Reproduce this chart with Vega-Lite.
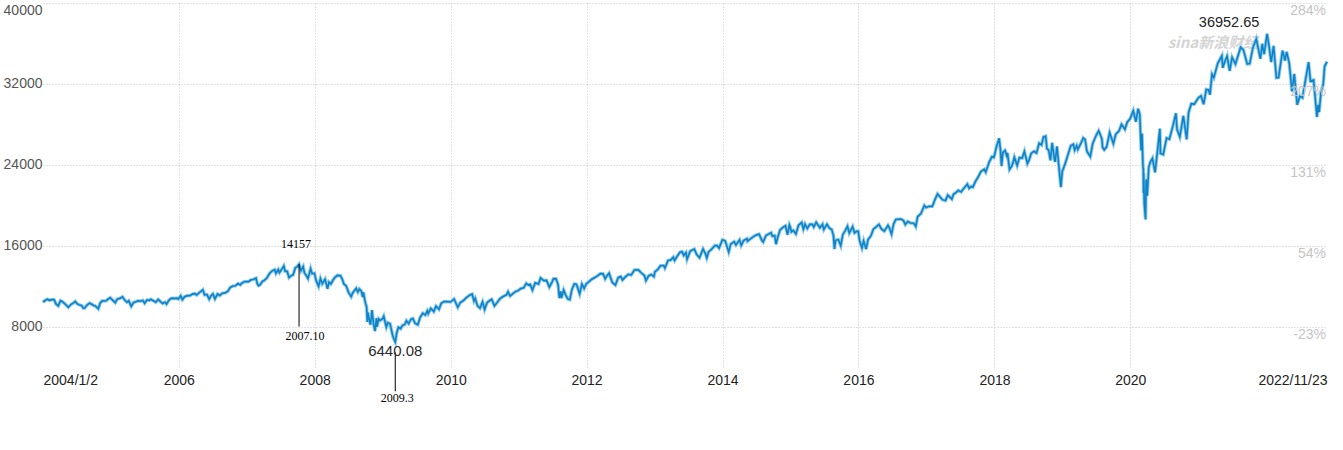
{
  "$schema": "https://vega.github.io/schema/vega-lite/v6.json",
  "width": 1284,
  "height": 364,
  "autosize": "none",
  "padding": {"left": 43, "top": 3, "right": 16, "bottom": 83},
  "background": "white",
  "config": {"view": {"stroke": null}, "font": "Liberation Sans"},
  "datasets": {
    "dji": [
      {"d":"2004/01/02","v":10409},{"d":"2004/01/15","v":10600},{"d":"2004/01/26","v":10702},{"d":"2004/02/06","v":10593},{"d":"2004/02/19","v":10665},{"d":"2004/03/01","v":10678},{"d":"2004/03/12","v":10240},{"d":"2004/03/24","v":10048},{"d":"2004/04/05","v":10558},{"d":"2004/04/16","v":10452},{"d":"2004/04/30","v":10226},{"d":"2004/05/17","v":9906},{"d":"2004/06/01","v":10202},{"d":"2004/06/14","v":10334},{"d":"2004/06/23","v":10479},{"d":"2004/07/06","v":10219},{"d":"2004/07/16","v":10139},{"d":"2004/07/27","v":10085},{"d":"2004/08/06","v":9815},{"d":"2004/08/13","v":9825},{"d":"2004/08/24","v":10098},{"d":"2004/09/08","v":10313},{"d":"2004/09/20","v":10204},{"d":"2004/09/30","v":10080},{"d":"2004/10/08","v":10055},{"d":"2004/10/25","v":9749},{"d":"2004/11/04","v":10314},{"d":"2004/11/15","v":10550},{"d":"2004/11/26","v":10522},{"d":"2004/12/06","v":10547},{"d":"2004/12/16","v":10705},{"d":"2004/12/28","v":10854},
      {"d":"2005/01/10","v":10621},{"d":"2005/01/24","v":10368},{"d":"2005/02/04","v":10716},{"d":"2005/02/18","v":10785},{"d":"2005/03/04","v":10940},{"d":"2005/03/16","v":10633},{"d":"2005/03/28","v":10405},{"d":"2005/04/07","v":10546},{"d":"2005/04/20","v":10012},{"d":"2005/05/03","v":10384},{"d":"2005/05/16","v":10464},{"d":"2005/05/26","v":10542},{"d":"2005/06/09","v":10503},{"d":"2005/06/21","v":10587},{"d":"2005/07/01","v":10303},{"d":"2005/07/14","v":10628},{"d":"2005/07/26","v":10580},{"d":"2005/08/03","v":10697},{"d":"2005/08/17","v":10550},{"d":"2005/08/30","v":10412},{"d":"2005/09/12","v":10682},{"d":"2005/09/26","v":10443},{"d":"2005/10/06","v":10288},{"d":"2005/10/19","v":10414},{"d":"2005/10/27","v":10229},{"d":"2005/11/08","v":10586},{"d":"2005/11/18","v":10766},{"d":"2005/11/30","v":10806},{"d":"2005/12/12","v":10778},{"d":"2005/12/20","v":10805},{"d":"2005/12/30","v":10718},
      {"d":"2006/01/11","v":11043},{"d":"2006/01/20","v":10667},{"d":"2006/02/01","v":10953},{"d":"2006/02/15","v":11058},{"d":"2006/03/01","v":11053},{"d":"2006/03/15","v":11209},{"d":"2006/03/28","v":11250},{"d":"2006/04/07","v":11120},{"d":"2006/04/20","v":11342},{"d":"2006/05/10","v":11640},{"d":"2006/05/19","v":11144},{"d":"2006/06/01","v":11168},{"d":"2006/06/13","v":10706},{"d":"2006/06/22","v":11019},{"d":"2006/07/03","v":11228},{"d":"2006/07/14","v":10740},{"d":"2006/07/28","v":11219},{"d":"2006/08/09","v":11076},{"d":"2006/08/23","v":11297},{"d":"2006/09/07","v":11331},{"d":"2006/09/22","v":11508},{"d":"2006/10/04","v":11867},{"d":"2006/10/19","v":12011},{"d":"2006/11/01","v":12032},{"d":"2006/11/15","v":12251},{"d":"2006/11/27","v":12121},{"d":"2006/12/07","v":12308},{"d":"2006/12/19","v":12441},{"d":"2006/12/29","v":12463},
      {"d":"2007/01/10","v":12442},{"d":"2007/01/24","v":12621},{"d":"2007/02/05","v":12661},{"d":"2007/02/20","v":12786},{"d":"2007/02/27","v":12216},{"d":"2007/03/05","v":12050},{"d":"2007/03/14","v":12133},{"d":"2007/03/26","v":12469},{"d":"2007/04/05","v":12560},{"d":"2007/04/19","v":12803},{"d":"2007/05/03","v":13241},{"d":"2007/05/16","v":13487},{"d":"2007/05/31","v":13628},{"d":"2007/06/07","v":13267},{"d":"2007/06/19","v":13636},{"d":"2007/06/26","v":13337},{"d":"2007/07/06","v":13612},{"d":"2007/07/19","v":14000},{"d":"2007/07/26","v":13473},{"d":"2007/08/06","v":13468},{"d":"2007/08/16","v":12845},{"d":"2007/08/28","v":13042},{"d":"2007/09/07","v":13113},{"d":"2007/09/19","v":13815},{"d":"2007/09/28","v":13896},{"d":"2007/10/09","v":14157},{"d":"2007/10/19","v":13522},{"d":"2007/10/31","v":13930},{"d":"2007/11/07","v":13300},{"d":"2007/11/15","v":13110},{"d":"2007/11/26","v":12743},{"d":"2007/12/10","v":13727},{"d":"2007/12/18","v":13232},{"d":"2007/12/31","v":13265},
      {"d":"2008/01/08","v":12590},{"d":"2008/01/22","v":11971},{"d":"2008/02/01","v":12743},{"d":"2008/02/11","v":12240},{"d":"2008/02/26","v":12684},{"d":"2008/03/10","v":11740},{"d":"2008/03/18","v":12392},{"d":"2008/03/28","v":12216},{"d":"2008/04/08","v":12577},{"d":"2008/04/18","v":12849},{"d":"2008/05/02","v":13058},{"d":"2008/05/19","v":13028},{"d":"2008/05/29","v":12647},{"d":"2008/06/06","v":12210},{"d":"2008/06/18","v":12029},{"d":"2008/07/01","v":11382},{"d":"2008/07/15","v":10962},{"d":"2008/07/24","v":11349},{"d":"2008/08/11","v":11782},{"d":"2008/08/20","v":11417},{"d":"2008/08/28","v":11715},{"d":"2008/09/08","v":11511},{"d":"2008/09/15","v":10917},{"d":"2008/09/19","v":11388},{"d":"2008/09/29","v":10365},{"d":"2008/10/06","v":9955},{"d":"2008/10/10","v":8451},{"d":"2008/10/13","v":9387},{"d":"2008/10/22","v":8519},{"d":"2008/10/27","v":8175},{"d":"2008/11/04","v":9625},{"d":"2008/11/12","v":8283},{"d":"2008/11/20","v":7552},{"d":"2008/11/28","v":8829},{"d":"2008/12/01","v":7997},{"d":"2008/12/10","v":8761},{"d":"2008/12/18","v":8604},{"d":"2008/12/31","v":8776},
      {"d":"2009/01/06","v":9015},{"d":"2009/01/20","v":7950},{"d":"2009/01/28","v":8375},{"d":"2009/02/09","v":8270},{"d":"2009/02/23","v":7115},{"d":"2009/03/02","v":6763},{"d":"2009/03/09","v":6470},{"d":"2009/03/17","v":7395},{"d":"2009/03/26","v":7925},{"d":"2009/04/07","v":7789},{"d":"2009/04/17","v":8131},{"d":"2009/04/29","v":8185},{"d":"2009/05/08","v":8575},{"d":"2009/05/20","v":8300},{"d":"2009/06/01","v":8721},{"d":"2009/06/12","v":8799},{"d":"2009/06/23","v":8323},{"d":"2009/07/08","v":8179},{"d":"2009/07/21","v":8916},{"d":"2009/08/04","v":9320},{"d":"2009/08/17","v":9135},{"d":"2009/08/28","v":9545},{"d":"2009/09/02","v":9281},{"d":"2009/09/16","v":9791},{"d":"2009/10/02","v":9487},{"d":"2009/10/14","v":10015},{"d":"2009/10/30","v":9713},{"d":"2009/11/11","v":10292},{"d":"2009/11/25","v":10464},{"d":"2009/12/11","v":10471},{"d":"2009/12/31","v":10428},
      {"d":"2010/01/19","v":10725},{"d":"2010/02/08","v":9908},{"d":"2010/02/22","v":10383},{"d":"2010/03/10","v":10567},{"d":"2010/03/25","v":10841},{"d":"2010/04/14","v":11123},{"d":"2010/04/26","v":11205},{"d":"2010/05/06","v":10520},{"d":"2010/05/13","v":10782},{"d":"2010/05/25","v":10043},{"d":"2010/06/07","v":9816},{"d":"2010/06/21","v":10443},{"d":"2010/07/02","v":9686},{"d":"2010/07/15","v":10366},{"d":"2010/07/26","v":10525},{"d":"2010/08/09","v":10698},{"d":"2010/08/24","v":10040},{"d":"2010/09/09","v":10415},{"d":"2010/09/22","v":10739},{"d":"2010/10/07","v":10948},{"d":"2010/10/27","v":11127},{"d":"2010/11/05","v":11444},{"d":"2010/11/16","v":11023},{"d":"2010/12/01","v":11256},{"d":"2010/12/15","v":11457},{"d":"2010/12/31","v":11578},
      {"d":"2011/01/12","v":11755},{"d":"2011/01/28","v":11823},{"d":"2011/02/11","v":12273},{"d":"2011/02/23","v":12106},{"d":"2011/03/04","v":12170},{"d":"2011/03/16","v":11613},{"d":"2011/03/31","v":12320},{"d":"2011/04/18","v":12202},{"d":"2011/04/29","v":12811},{"d":"2011/05/16","v":12549},{"d":"2011/05/31","v":12570},{"d":"2011/06/15","v":11898},{"d":"2011/06/30","v":12414},{"d":"2011/07/07","v":12719},{"d":"2011/07/21","v":12725},{"d":"2011/08/01","v":12133},{"d":"2011/08/08","v":10810},{"d":"2011/08/15","v":11482},{"d":"2011/08/19","v":10818},{"d":"2011/08/31","v":11614},{"d":"2011/09/12","v":11062},{"d":"2011/09/22","v":10734},{"d":"2011/10/03","v":10655},{"d":"2011/10/14","v":11644},{"d":"2011/10/27","v":12209},{"d":"2011/11/08","v":12170},{"d":"2011/11/25","v":11231},{"d":"2011/12/07","v":12196},{"d":"2011/12/19","v":11766},{"d":"2011/12/30","v":12218},
      {"d":"2012/01/13","v":12422},{"d":"2012/01/27","v":12660},{"d":"2012/02/10","v":12801},{"d":"2012/02/28","v":13005},{"d":"2012/03/16","v":13233},{"d":"2012/03/30","v":13212},{"d":"2012/04/10","v":12715},{"d":"2012/04/20","v":13029},{"d":"2012/05/01","v":13280},{"d":"2012/05/18","v":12370},{"d":"2012/06/04","v":12101},{"d":"2012/06/19","v":12837},{"d":"2012/07/03","v":12943},{"d":"2012/07/12","v":12604},{"d":"2012/07/26","v":12888},{"d":"2012/08/13","v":13169},{"d":"2012/08/28","v":13103},{"d":"2012/09/14","v":13594},{"d":"2012/10/05","v":13610},{"d":"2012/10/19","v":13344},{"d":"2012/11/07","v":13046},{"d":"2012/11/15","v":12542},{"d":"2012/11/30","v":13026},{"d":"2012/12/14","v":13136},{"d":"2012/12/28","v":12938},
      {"d":"2013/01/02","v":13412},{"d":"2013/01/18","v":13650},{"d":"2013/02/01","v":14009},{"d":"2013/02/19","v":14036},{"d":"2013/02/25","v":13784},{"d":"2013/03/14","v":14539},{"d":"2013/03/28","v":14579},{"d":"2013/04/11","v":14865},{"d":"2013/04/18","v":14537},{"d":"2013/05/03","v":14974},{"d":"2013/05/17","v":15354},{"d":"2013/05/28","v":15410},{"d":"2013/06/06","v":15041},{"d":"2013/06/18","v":15318},{"d":"2013/06/24","v":14660},{"d":"2013/07/11","v":15460},{"d":"2013/07/23","v":15567},{"d":"2013/08/02","v":15658},{"d":"2013/08/15","v":15112},{"d":"2013/08/30","v":14810},{"d":"2013/09/18","v":15677},{"d":"2013/10/01","v":15192},{"d":"2013/10/08","v":14776},{"d":"2013/10/18","v":15400},{"d":"2013/11/01","v":15616},{"d":"2013/11/21","v":16009},{"d":"2013/12/02","v":16008},{"d":"2013/12/13","v":15755},{"d":"2013/12/31","v":16577},
      {"d":"2014/01/15","v":16482},{"d":"2014/02/03","v":15373},{"d":"2014/02/14","v":16154},{"d":"2014/03/04","v":16396},{"d":"2014/03/14","v":16065},{"d":"2014/04/02","v":16573},{"d":"2014/04/11","v":16027},{"d":"2014/04/24","v":16502},{"d":"2014/05/12","v":16696},{"d":"2014/05/15","v":16447},{"d":"2014/06/03","v":16723},{"d":"2014/06/20","v":16948},{"d":"2014/07/03","v":17068},{"d":"2014/07/16","v":17138},{"d":"2014/08/01","v":16493},{"d":"2014/08/07","v":16368},{"d":"2014/08/22","v":17001},{"d":"2014/09/05","v":17138},{"d":"2014/09/19","v":17280},{"d":"2014/09/25","v":16945},{"d":"2014/10/08","v":16995},{"d":"2014/10/15","v":16142},{"d":"2014/10/24","v":16805},{"d":"2014/11/06","v":17554},{"d":"2014/11/21","v":17810},{"d":"2014/12/05","v":17959},{"d":"2014/12/16","v":17069},{"d":"2014/12/26","v":18053},{"d":"2014/12/31","v":17823},
      {"d":"2015/01/06","v":17371},{"d":"2015/01/16","v":17511},{"d":"2015/01/30","v":17165},{"d":"2015/02/13","v":18019},{"d":"2015/03/02","v":18289},{"d":"2015/03/11","v":17635},{"d":"2015/03/20","v":18128},{"d":"2015/04/01","v":17698},{"d":"2015/04/15","v":18113},{"d":"2015/04/28","v":18110},{"d":"2015/05/06","v":17841},{"d":"2015/05/19","v":18312},{"d":"2015/06/08","v":17767},{"d":"2015/06/22","v":18119},{"d":"2015/06/29","v":17597},{"d":"2015/07/16","v":18120},{"d":"2015/07/31","v":17690},{"d":"2015/08/10","v":17615},{"d":"2015/08/20","v":16990},{"d":"2015/08/25","v":15666},{"d":"2015/08/31","v":16528},{"d":"2015/09/15","v":16600},{"d":"2015/09/28","v":16001},{"d":"2015/10/09","v":17084},{"d":"2015/10/22","v":17490},{"d":"2015/11/03","v":17918},{"d":"2015/11/13","v":17245},{"d":"2015/12/01","v":17889},{"d":"2015/12/11","v":17265},{"d":"2015/12/22","v":17418},{"d":"2015/12/31","v":17425},
      {"d":"2016/01/07","v":16515},{"d":"2016/01/20","v":15766},{"d":"2016/01/29","v":16466},{"d":"2016/02/11","v":15660},{"d":"2016/02/22","v":16620},{"d":"2016/03/08","v":16964},{"d":"2016/03/21","v":17623},{"d":"2016/04/01","v":17792},{"d":"2016/04/20","v":18096},{"d":"2016/05/04","v":17651},{"d":"2016/05/19","v":17436},{"d":"2016/06/08","v":18005},{"d":"2016/06/16","v":17733},{"d":"2016/06/27","v":17140},{"d":"2016/07/08","v":18147},{"d":"2016/07/20","v":18595},{"d":"2016/08/15","v":18636},{"d":"2016/08/29","v":18503},{"d":"2016/09/09","v":18085},{"d":"2016/09/22","v":18392},{"d":"2016/10/07","v":18240},{"d":"2016/10/24","v":18223},{"d":"2016/11/04","v":17888},{"d":"2016/11/14","v":18869},{"d":"2016/12/02","v":19171},{"d":"2016/12/20","v":19974},{"d":"2016/12/30","v":19763},
      {"d":"2017/01/13","v":19886},{"d":"2017/02/01","v":19890},{"d":"2017/02/14","v":20504},{"d":"2017/03/01","v":21115},{"d":"2017/03/14","v":20837},{"d":"2017/03/27","v":20550},{"d":"2017/04/13","v":20453},{"d":"2017/04/25","v":20996},{"d":"2017/05/17","v":20607},{"d":"2017/05/26","v":21080},{"d":"2017/06/09","v":21272},{"d":"2017/06/20","v":21467},{"d":"2017/07/06","v":21320},{"d":"2017/07/19","v":21641},{"d":"2017/08/08","v":22085},{"d":"2017/08/18","v":21675},{"d":"2017/08/29","v":21865},{"d":"2017/09/07","v":21785},{"d":"2017/09/21","v":22359},{"d":"2017/10/05","v":22775},{"d":"2017/10/20","v":23329},{"d":"2017/11/07","v":23557},{"d":"2017/11/15","v":23271},{"d":"2017/12/04","v":24290},{"d":"2017/12/18","v":24792},{"d":"2017/12/29","v":24719},
      {"d":"2018/01/12","v":25803},{"d":"2018/01/26","v":26617},{"d":"2018/02/02","v":25521},{"d":"2018/02/08","v":23860},{"d":"2018/02/15","v":25200},{"d":"2018/02/27","v":25410},{"d":"2018/03/08","v":24895},{"d":"2018/03/12","v":25179},{"d":"2018/03/23","v":23533},{"d":"2018/04/06","v":23932},{"d":"2018/04/18","v":24748},{"d":"2018/05/03","v":23930},{"d":"2018/05/15","v":24706},{"d":"2018/05/30","v":24667},{"d":"2018/06/11","v":25322},{"d":"2018/06/27","v":24117},{"d":"2018/07/06","v":24456},{"d":"2018/07/17","v":25120},{"d":"2018/08/01","v":25333},{"d":"2018/08/15","v":25162},{"d":"2018/08/29","v":26124},{"d":"2018/09/11","v":25971},{"d":"2018/09/21","v":26743},{"d":"2018/10/03","v":26828},{"d":"2018/10/10","v":25598},{"d":"2018/10/19","v":25444},{"d":"2018/10/29","v":24442},{"d":"2018/11/07","v":26180},{"d":"2018/11/20","v":24466},{"d":"2018/11/23","v":24286},{"d":"2018/12/03","v":25826},{"d":"2018/12/10","v":24423},{"d":"2018/12/24","v":21792},{"d":"2018/12/31","v":23327},
      {"d":"2019/01/15","v":24065},{"d":"2019/01/31","v":24999},{"d":"2019/02/15","v":25883},{"d":"2019/03/01","v":26026},{"d":"2019/03/08","v":25450},{"d":"2019/03/19","v":25887},{"d":"2019/03/25","v":25516},{"d":"2019/04/11","v":26143},{"d":"2019/04/23","v":26656},{"d":"2019/05/03","v":26505},{"d":"2019/05/13","v":25324},{"d":"2019/05/31","v":24815},{"d":"2019/06/13","v":26106},{"d":"2019/07/03","v":26966},{"d":"2019/07/15","v":27359},{"d":"2019/08/01","v":26583},{"d":"2019/08/05","v":25718},{"d":"2019/08/14","v":25479},{"d":"2019/08/27","v":25778},{"d":"2019/09/12","v":27182},{"d":"2019/10/02","v":26078},{"d":"2019/10/15","v":27024},{"d":"2019/11/01","v":27347},{"d":"2019/11/15","v":28005},{"d":"2019/12/03","v":27502},{"d":"2019/12/16","v":28235},{"d":"2019/12/31","v":28538},
      {"d":"2020/01/17","v":29348},{"d":"2020/01/31","v":28256},{"d":"2020/02/12","v":29551},{"d":"2020/02/21","v":28992},{"d":"2020/02/28","v":25409},{"d":"2020/03/04","v":27090},{"d":"2020/03/09","v":23851},{"d":"2020/03/11","v":23553},{"d":"2020/03/12","v":21200},{"d":"2020/03/13","v":23185},{"d":"2020/03/16","v":20189},{"d":"2020/03/23","v":18592},{"d":"2020/03/26","v":22552},{"d":"2020/04/01","v":20943},{"d":"2020/04/09","v":23719},{"d":"2020/04/17","v":24242},{"d":"2020/04/29","v":24634},{"d":"2020/05/13","v":23248},{"d":"2020/05/27","v":25548},{"d":"2020/06/08","v":27572},{"d":"2020/06/11","v":25128},{"d":"2020/06/26","v":25016},{"d":"2020/07/14","v":26643},{"d":"2020/07/29","v":26540},{"d":"2020/08/17","v":27844},{"d":"2020/09/02","v":29100},{"d":"2020/09/08","v":27501},{"d":"2020/09/23","v":26763},{"d":"2020/10/12","v":28838},{"d":"2020/10/30","v":26502},{"d":"2020/11/09","v":29158},{"d":"2020/11/24","v":30046},{"d":"2020/12/10","v":29999},{"d":"2020/12/31","v":30606},
      {"d":"2021/01/15","v":30814},{"d":"2021/01/29","v":29983},{"d":"2021/02/12","v":31458},{"d":"2021/02/25","v":31402},{"d":"2021/03/04","v":30924},{"d":"2021/03/15","v":32953},{"d":"2021/03/25","v":32620},{"d":"2021/04/15","v":34035},{"d":"2021/05/07","v":34778},{"d":"2021/05/12","v":33587},{"d":"2021/05/25","v":34313},{"d":"2021/06/04","v":34756},{"d":"2021/06/18","v":33290},{"d":"2021/07/01","v":34633},{"d":"2021/07/19","v":33962},{"d":"2021/08/16","v":35625},{"d":"2021/08/31","v":35361},{"d":"2021/09/20","v":33970},{"d":"2021/10/04","v":34002},{"d":"2021/10/21","v":35604},{"d":"2021/11/08","v":36432},{"d":"2021/11/30","v":34483},{"d":"2021/12/10","v":35971},{"d":"2021/12/20","v":34932},{"d":"2021/12/31","v":36338},
      {"d":"2022/01/05","v":36952},{"d":"2022/01/14","v":35911},{"d":"2022/01/27","v":34160},{"d":"2022/02/09","v":35768},{"d":"2022/02/24","v":32600},{"d":"2022/03/08","v":32633},{"d":"2022/03/29","v":35294},{"d":"2022/04/11","v":34308},{"d":"2022/04/20","v":35160},{"d":"2022/05/04","v":34061},{"d":"2022/05/19","v":31253},{"d":"2022/05/31","v":32990},{"d":"2022/06/16","v":29927},{"d":"2022/06/30","v":30775},{"d":"2022/07/14","v":30630},{"d":"2022/08/16","v":34152},{"d":"2022/08/26","v":32283},{"d":"2022/09/12","v":32381},{"d":"2022/09/30","v":28725},{"d":"2022/10/06","v":29927},{"d":"2022/10/12","v":29210},{"d":"2022/10/21","v":31082},{"d":"2022/11/03","v":32001},{"d":"2022/11/10","v":33715},{"d":"2022/11/23","v":34194}
    ],
    "pct": [
      {"d":"2022/11/23","v":40000,"t":"284%"},{"d":"2022/11/23","v":32000,"t":"207%"},{"d":"2022/11/23","v":24000,"t":"131%"},{"d":"2022/11/23","v":16000,"t":"54%"},{"d":"2022/11/23","v":8000,"t":"-23%"}
    ],
    "hi07": [{"d":"2007/10/09","v":14157,"e":8000,"t":"14157","b":"2007.10"}],
    "lo09": [{"d":"2009/03/09","v":6440.08,"t":"6440.08","b":"2009.3"}],
    "hi22": [{"d":"2022/01/05","v":36952.65,"t":"36952.65"}],
    "wm": [{"d":"2021/03/20","v":36000,"t":"sina新浪财经"}]
  },
  "encoding": {
    "x": {
      "field": "d", "type": "temporal",
      "scale": {"domain": [{"year": 2004, "month": 1, "date": 2}, {"year": 2022, "month": 11, "date": 23}]},
      "axis": {
        "title": null, "domain": false, "ticks": false,
        "values": [
          {"year": 2004, "month": 1, "date": 2}, {"year": 2006, "month": 1, "date": 1}, {"year": 2008, "month": 1, "date": 1},
          {"year": 2010, "month": 1, "date": 1}, {"year": 2012, "month": 1, "date": 1}, {"year": 2014, "month": 1, "date": 1},
          {"year": 2016, "month": 1, "date": 1}, {"year": 2018, "month": 1, "date": 1}, {"year": 2020, "month": 1, "date": 1},
          {"year": 2022, "month": 11, "date": 23}
        ],
        "labelExpr": "month(datum.value)==0 && date(datum.value)==1 ? timeFormat(datum.value,'%Y') : timeFormat(datum.value,'%Y/%-m/%-d')",
        "labelFlush": true, "labelOverlap": false, "labelPadding": 6,
        "labelFont": "Liberation Sans", "labelFontSize": 14, "labelColor": "#222222",
        "grid": true, "gridColor": "#c4c4c4", "gridDash": [1, 2], "gridWidth": 1,
        "gridOpacity": {"condition": {"test": "date(datum.value) != 1", "value": 0}, "value": 1}
      }
    },
    "y": {
      "field": "v", "type": "quantitative",
      "scale": {"domain": [4000, 40000], "nice": false, "zero": false},
      "axis": {
        "title": null, "domain": false, "ticks": false,
        "values": [8000, 16000, 24000, 32000, 40000], "format": "d",
        "labelFlush": true, "labelOverlap": false, "labelPadding": 1,
        "labelFont": "Liberation Sans", "labelFontSize": 14, "labelColor": "#555555",
        "grid": true, "gridColor": "#c4c4c4", "gridDash": [1, 2], "gridWidth": 1
      }
    }
  },
  "layer": [
    {
      "data": {"name": "wm"},
      "mark": {"type": "text", "font": "Noto Sans CJK SC", "fontSize": 15, "fontStyle": "italic", "fontWeight": "bold", "color": "#d4d4d4", "baseline": "middle"},
      "encoding": {"text": {"field": "t"}}
    },
    {
      "data": {"name": "dji"},
      "mark": {"type": "line", "color": "#8ec9ec", "strokeWidth": 3.5}
    },
    {
      "data": {"name": "dji"},
      "mark": {"type": "line", "color": "#0d83c7", "strokeWidth": 1.6}
    },
    {
      "data": {"name": "pct"},
      "mark": {"type": "text", "font": "Liberation Sans", "fontSize": 14, "color": "#c4c4c4", "align": "right", "baseline": "middle", "dx": -1, "dy": 8},
      "encoding": {"text": {"field": "t"}}
    },
    {
      "data": {"name": "hi07"},
      "mark": {"type": "rule", "color": "#000000", "strokeWidth": 1},
      "encoding": {"y2": {"field": "e"}}
    },
    {
      "data": {"name": "hi07"},
      "mark": {"type": "text", "font": "Liberation Serif", "fontSize": 12, "color": "#000000", "baseline": "middle", "dx": -3, "dy": -20},
      "encoding": {"text": {"field": "t"}}
    },
    {
      "data": {"name": "hi07"},
      "mark": {"type": "text", "font": "Liberation Serif", "fontSize": 12, "color": "#000000", "baseline": "middle", "dx": 6, "dy": 72},
      "encoding": {"text": {"field": "b"}}
    },
    {
      "data": {"name": "lo09"},
      "mark": {"type": "rule", "color": "#000000", "strokeWidth": 1, "yOffset": 10, "y2Offset": 49},
      "encoding": {"y2": {"field": "v"}}
    },
    {
      "data": {"name": "lo09"},
      "mark": {"type": "text", "font": "Liberation Sans", "fontSize": 15, "color": "#2a2a2a", "baseline": "middle", "dx": 0, "dy": 9},
      "encoding": {"text": {"field": "t"}}
    },
    {
      "data": {"name": "lo09"},
      "mark": {"type": "text", "font": "Liberation Serif", "fontSize": 12, "color": "#000000", "baseline": "middle", "dx": 2, "dy": 56},
      "encoding": {"text": {"field": "b"}}
    },
    {
      "data": {"name": "hi22"},
      "mark": {"type": "text", "font": "Liberation Sans", "fontSize": 14.5, "color": "#222222", "baseline": "middle", "dx": -38, "dy": -11},
      "encoding": {"text": {"field": "t"}}
    }
  ]
}
